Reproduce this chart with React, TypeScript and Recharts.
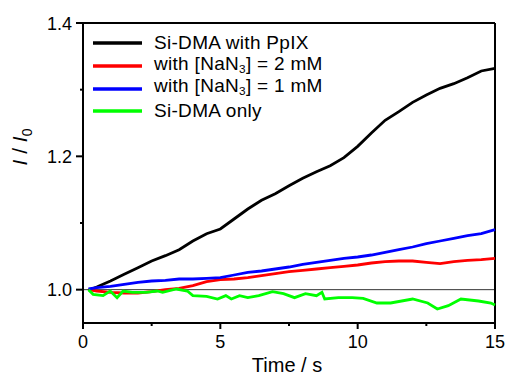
import { Legend, Line, LineChart, ReferenceLine, XAxis, YAxis } from "recharts"

const FONT = "'Liberation Sans', Arial, sans-serif"

const seriesNames = ["Si-DMA with PpIX", "with [NaN_3] = 2 mM", "with [NaN_3] = 1 mM", "Si-DMA only"]
const seriesColors = ["#000000", "#ff0000", "#0000ff", "#00ff00"]

const baseTimes = [
  0.2, 0.5, 1, 1.5, 2, 2.5, 3, 3.5, 4, 4.5, 5, 5.5, 6, 6.5, 7, 7.5, 8, 8.5, 9, 9.5, 10, 10.5, 11, 11.5, 12, 12.5,
  13, 13.5, 14, 14.5, 15,
]
const withPpIX = [
  0.999, 1.004, 1.013, 1.023, 1.033, 1.043, 1.051, 1.06, 1.073, 1.084, 1.091, 1.106, 1.121, 1.134, 1.144, 1.156,
  1.167, 1.177, 1.186, 1.198, 1.215, 1.235, 1.254, 1.267, 1.281, 1.292, 1.302, 1.309, 1.318, 1.328, 1.332,
]
const azide2mM = [
  1.0, 0.998, 0.996, 0.995, 0.995, 0.997, 1.0, 1.002, 1.006, 1.012, 1.015, 1.016, 1.018, 1.021, 1.024, 1.027, 1.029,
  1.031, 1.033, 1.035, 1.037, 1.04, 1.042, 1.043, 1.043, 1.041, 1.039, 1.042, 1.044, 1.045, 1.047,
]
const azide1mM = [
  1.001, 1.003, 1.005, 1.008, 1.011, 1.013, 1.014, 1.016, 1.016, 1.017, 1.018, 1.022, 1.026, 1.028, 1.031, 1.034,
  1.038, 1.041, 1.044, 1.047, 1.049, 1.052, 1.056, 1.06, 1.064, 1.069, 1.073, 1.077, 1.081, 1.084, 1.09,
]

const onlyTimes = [
  0.2, 0.37, 0.73, 0.99, 1.24, 1.46, 1.8, 2.3, 2.7, 2.9, 3.4, 3.8, 4.0, 4.5, 4.9, 5.2, 5.4, 5.7, 6.0, 6.4, 6.9, 7.3,
  7.7, 8.1, 8.5, 8.7, 8.8, 9.3, 9.8, 10.2, 10.7, 11.2, 12.0, 12.55, 12.9, 13.3, 13.76, 14.4, 14.85, 15,
]
const onlyDye = [
  1.0, 0.993, 0.991, 0.998, 0.988, 0.998, 0.996, 0.996, 0.998, 0.996, 1.001, 0.998, 0.991, 0.99, 0.986, 0.991, 0.986,
  0.991, 0.988, 0.991, 0.997, 0.994, 0.988, 0.994, 0.991, 0.996, 0.986, 0.988, 0.988, 0.987, 0.98, 0.98, 0.986, 0.98,
  0.971, 0.976, 0.986, 0.983, 0.98, 0.977,
]

const xTicks = [0, 2.5, 5, 7.5, 10, 12.5, 15]
const yTicks = [1.0, 1.1, 1.2, 1.3, 1.4]

const toPoints = (ts: number[], vs: number[]) => ts.map((t, i) => ({ t, v: vs[i] }))

const series = [
  toPoints(baseTimes, withPpIX),
  toPoints(baseTimes, azide2mM),
  toPoints(baseTimes, azide1mM),
  toPoints(onlyTimes, onlyDye),
]

const TICK_SIZE = 6
const TICK_MARGIN = 4

function XTick(props: any) {
  const { x, y, payload } = props
  const major = payload.value % 5 === 0
  const y0 = y - TICK_SIZE - TICK_MARGIN
  return (
    <g>
      <line x1={x} x2={x} y1={y0} y2={y0 + (major ? 6 : 3)} stroke="#000" strokeWidth={2} />
      {major && (
        <text x={x} y={y0 + 25} textAnchor="middle" fontSize={18} fontFamily={FONT} fill="#000">
          {payload.value}
        </text>
      )}
    </g>
  )
}

function YTick(props: any) {
  const { x, y, payload } = props
  const major = Math.round(payload.value * 10) % 2 === 0
  const x0 = x + TICK_SIZE + TICK_MARGIN
  return (
    <g>
      <line x1={x0} x2={x0 - (major ? 7 : 3)} y1={y} y2={y} stroke="#000" strokeWidth={2} />
      {major && (
        <text x={x0 - 11} y={y + 6.5} textAnchor="end" fontSize={18} fontFamily={FONT} fill="#000">
          {payload.value.toFixed(1)}
        </text>
      )}
    </g>
  )
}

// "NaN_3" -> NaN with subscript 3
function withSub(text: string) {
  const parts = text.split("_")
  if (parts.length === 1) return text
  return (
    <>
      {parts[0]}
      <sub style={{ fontSize: "0.62em", verticalAlign: "-0.25em" }}>{parts[1][0]}</sub>
      {parts[1].slice(1)}
    </>
  )
}

function renderLegend() {
  return (
    <div style={{ fontFamily: FONT, fontSize: 19, letterSpacing: 0.3, color: "#000" }}>
      {seriesNames.map((name, i) => (
        <div key={i} style={{ display: "flex", alignItems: "center", height: 22.7, whiteSpace: "nowrap" }}>
          <svg width={49} height={6} style={{ marginRight: 12, flex: "none" }}>
            <line x1={0} x2={49} y1={3} y2={3} stroke={seriesColors[i]} strokeWidth={3.5} />
          </svg>
          <span style={{ lineHeight: "22px" }}>{withSub(name)}</span>
        </div>
      ))}
    </div>
  )
}

function YLabel(props: any) {
  const vb = props.viewBox
  const cx = vb.x + 27
  const cy = vb.y + 124
  return (
    <text
      transform={`translate(${cx},${cy}) rotate(-90)`}
      textAnchor="middle"
      fontSize={21}
      fontFamily={FONT}
      fill="#000"
    >
      <tspan fontStyle="italic">I</tspan>
      <tspan> / </tspan>
      <tspan fontStyle="italic">I</tspan>
      <tspan fontSize={14} dy={5}>0</tspan>
    </text>
  )
}

function XLabel(props: any) {
  const vb = props.viewBox
  return (
    <text x={vb.x + vb.width / 2 - 2} y={vb.y + 49} textAnchor="middle" fontSize={20} fontFamily={FONT} fill="#000">
      Time / s
    </text>
  )
}

export default function App() {
  return (
    <div style={{ position: "absolute", left: 0, top: 0, width: 505, height: 376, background: "#fff" }}>
      <LineChart width={505} height={376} margin={{ top: 23, right: 10, bottom: 0, left: 0 }}>
        <XAxis
          dataKey="t"
          type="number"
          domain={[0, 15]}
          ticks={xTicks}
          interval={0}
          height={53}
          tickSize={TICK_SIZE}
          tickMargin={TICK_MARGIN}
          tickLine={false}
          tick={<XTick />}
          axisLine={{ stroke: "#000", strokeWidth: 2 }}
          allowDecimals
          label={<XLabel />}
        />
        <YAxis
          type="number"
          domain={[0.95, 1.4]}
          ticks={yTicks}
          interval={0}
          width={83}
          tickSize={TICK_SIZE}
          tickMargin={TICK_MARGIN}
          tickLine={false}
          tick={<YTick />}
          axisLine={{ stroke: "#000", strokeWidth: 2 }}
          allowDataOverflow
          label={<YLabel />}
        />
        <ReferenceLine y={1.0} stroke="#333" strokeWidth={1} />
        <ReferenceLine y={1.4} stroke="#000" strokeWidth={2} />
        <ReferenceLine x={15} stroke="#000" strokeWidth={2} />
        {series.map((d, i) => (
          <Line
            key={i}
            data={d}
            dataKey="v"
            name={seriesNames[i]}
            type="linear"
            stroke={seriesColors[i]}
            strokeWidth={2.8}
            dot={false}
            isAnimationActive={false}
          />
        ))}
        <Legend
          layout="horizontal"
          verticalAlign="middle"
          align="center"
          content={renderLegend}
          wrapperStyle={{ top: 32, left: 93, width: "auto" }}
        />
      </LineChart>
    </div>
  )
}
